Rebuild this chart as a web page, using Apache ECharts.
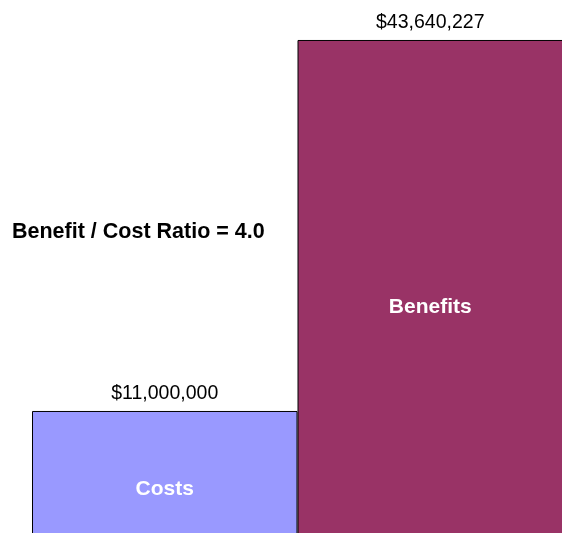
<!DOCTYPE html>
<html>
<head>
<meta charset="utf-8">
<script src="https://cdn.jsdelivr.net/npm/echarts@6/dist/echarts.min.js"></script>
<style>html,body{margin:0;padding:0;background:#fff;overflow:hidden}#c{width:562px;height:533px}</style>
</head>
<body>
<div id="c"></div>
<script>
const categories = ['Costs', 'Benefits'];
const values = [11000000, 43640227];
const colors = ['#9999FF', '#993366'];
const nameOffsets = [[0, 16], [0, 19]];

const ratio = (values[1] / values[0]).toFixed(1);
const fmtMoney = v => '$' + Math.round(v).toLocaleString('en-US');
const FONT = 'Liberation Sans, Arial, sans-serif';

const chart = echarts.init(document.getElementById('c'), null, {renderer: 'canvas'});
chart.setOption({
  animation: false,
  backgroundColor: '#ffffff',
  title: {
    text: 'Benefit / Cost Ratio = ' + ratio,
    left: 12, top: 221, padding: 0,
    textStyle: {fontFamily: FONT, fontSize: 21.5, fontWeight: 'bold', color: '#000'}
  },
  grid: {left: 32, top: 0, width: 531, height: 536, containLabel: false, outerBoundsMode: 'none'},
  xAxis: {type: 'category', data: categories, show: false},
  yAxis: {type: 'value', min: 0, max: 47156739, show: false},
  series: [
    {
      type: 'bar',
      barWidth: '100%',
      barGap: '-100%',
      data: values.map((v, i) => ({
        value: v,
        itemStyle: {color: colors[i], borderColor: '#000', borderWidth: 1},
        label: {offset: nameOffsets[i]}
      })),
      label: {
        show: true, position: 'inside',
        formatter: p => p.name,
        fontFamily: FONT, fontSize: 21, fontWeight: 'bold', color: '#fff'
      }
    },
    {
      type: 'bar',
      barWidth: '100%',
      barGap: '-100%',
      data: values,
      itemStyle: {color: 'transparent'},
      label: {
        show: true, position: 'top', distance: 7,
        formatter: p => fmtMoney(p.value),
        fontFamily: FONT, fontSize: 19.5, color: '#000'
      },
      silent: true
    }
  ]
});
</script>
</body>
</html>
